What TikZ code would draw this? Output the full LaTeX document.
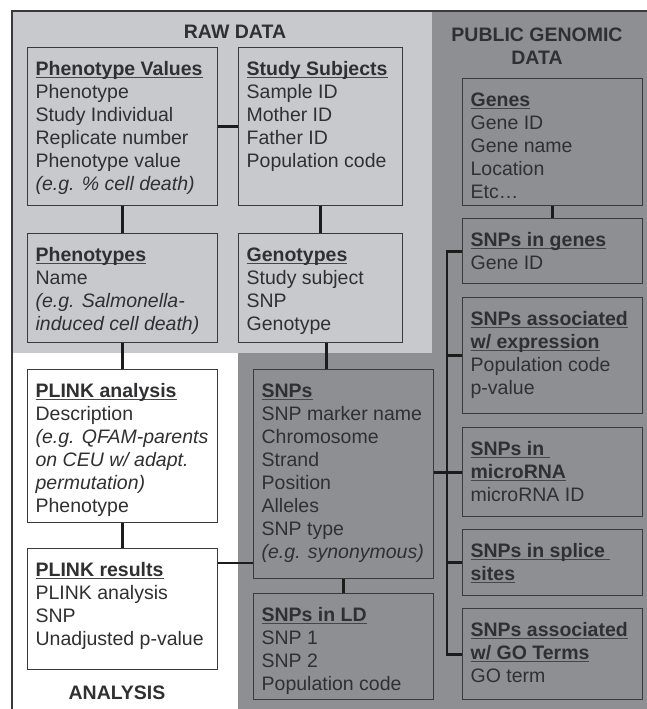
\documentclass[tikz,border=0pt]{standalone}
\usepackage{fontspec}
\setmainfont{Liberation Sans}

\definecolor{rawfill}{RGB}{200,201,204}
\definecolor{pubfill}{RGB}{142,143,147}
\definecolor{boxline}{RGB}{58,58,60}
\definecolor{linkcol}{RGB}{28,28,28}
\definecolor{textgray}{RGB}{48,48,50}
\definecolor{ulcol}{RGB}{70,70,72}

\newcommand{\fieldfont}{\fontsize{19.5}{23}\selectfont}
% bold table title, underlined
\newcommand{\ttl}[1]{\setbox0\hbox{\bfseries #1}\rlap{\color{ulcol}\rule[-2.8pt]{\wd0}{1.3pt}}\box0}
% fixed size body of a table box: width, height, lines
\newcommand{\entity}[3]{\parbox[c][#2pt][t]{#1pt}{\rule{0pt}{28pt}#3}}

\begin{document}
\begin{tikzpicture}
        [
            x = 1pt, y = -1pt,
            table/.style = {
                draw=boxline, line width=1.3pt, rectangle, anchor=north west,
                inner xsep=8pt, inner ysep=0pt, font=\fieldfont, text=textgray},
            result/.style = {table, fill=white},
            link/.style = {draw=linkcol, line width=2.8pt},
            area/.style = {font=\fieldfont\bfseries, text=textgray, align=center, inner sep=0pt}
        ]
        \useasboundingbox (0,0) rectangle (647,709);
        % shaded areas and frame
        \fill [rawfill] (12,11) rectangle (432,353);
        \fill [pubfill] (432,11) -- (647,11) -- (647,709) -- (238,709) -- (238,353) -- (432,353) -- cycle;
        \draw [boxline, line width=1.5pt] (12,709) -- (12,11) -- (647,11);

        \node [area, anchor=base] (rawlbl) at (235,38) {RAW DATA};
        \node [area, anchor=base] (publbl) at (537,65) {PUBLIC GENOMIC\\[1pt]DATA};
        \node [area, anchor=base] (analbl) at (117,699) {ANALYSIS};

        % raw data
        \node [table] (pval) at (27,47) {\entity{174}{158}{\ttl{Phenotype Values}\\Phenotype\\Study Individual\\Replicate number\\Phenotype value\\\textit{(e.g. \% cell death)}}};
        \node [table] (subj) at (238,47) {\entity{148}{158}{\ttl{Study Subjects}\\Sample ID\\Mother ID\\Father ID\\Population code}};
        \node [table] (pheno) at (27,233) {\entity{174}{109}{\ttl{Phenotypes}\\Name\\\textit{(e.g. Salmonella-}\\\textit{induced cell death)}}};
        \node [table] (geno) at (238,233) {\entity{148}{109}{\ttl{Genotypes}\\Study subject\\SNP\\Genotype}};

        % analysis
        \node [result] (plinka) at (27,369) {\entity{174}{153}{\ttl{PLINK analysis}\\Description\\\textit{(e.g. QFAM-parents}\\\textit{on CEU w/ adapt.}\\\textit{permutation)}\\Phenotype}};
        \node [result] (plinkr) at (27,548) {\entity{174}{121}{\ttl{PLINK results}\\PLINK analysis\\SNP\\Unadjusted p-value}};

        % public genomic data
        \node [table] (snps) at (253,369) {\entity{164}{209}{\ttl{SNPs}\\SNP marker name\\Chromosome\\Strand\\Position\\Alleles\\SNP type\\\textit{(e.g. synonymous)}}};
        \node [table] (ld) at (253,593) {\entity{164}{106}{\ttl{SNPs in LD}\\SNP 1\\SNP 2\\Population code}};
        \node [table] (genes) at (462,78) {\entity{164}{127}{\ttl{Genes}\\Gene ID\\Gene name\\Location\\Etc…}};
        \node [table] (ingenes) at (462,218) {\entity{164}{65}{\ttl{SNPs in genes}\\Gene ID}};
        \node [table] (expr) at (462,297) {\entity{164}{116}{\ttl{SNPs associated}\\\ttl{w/ expression}\\Population code\\p-value}};
        \node [table] (mirna) at (462,427) {\entity{164}{89}{\ttl{SNPs in\ }\\\ttl{microRNA}\\microRNA ID}};
        \node [table] (splice) at (462,529) {\entity{164}{66}{\ttl{SNPs in splice\ }\\\ttl{sites}}};
        \node [table] (goterm) at (462,608) {\entity{164}{91}{\ttl{SNPs associated}\\\ttl{w/ GO Terms}\\GO term}};

        % links
        \draw [link] (pval) to (subj);
        \draw [link] (pval) to (pheno);
        \draw [link] (subj) to (geno);
        \draw [link] (pheno) to (plinka);
        \draw [link] (plinka) to (plinkr);
        \draw [link] ([xshift=6pt]geno.south) to ([xshift=6pt]geno.south |- snps.north);
        \draw [link] (snps) to (ld);
        \draw [link] ([yshift=-15pt]plinkr.north east) to ([yshift=-15pt]plinkr.north east -| snps.west);
        \draw [link] (genes) to (ingenes);
        \draw [link] (snps.east |- mirna.west) to (mirna.west);
        \draw [link] (ingenes.west) -- ++(-15,0) |- (goterm.west);
        \foreach \t in {expr, mirna, splice}
            \draw [link] (\t.west) -- ++(-15,0);
    \end{tikzpicture}
\end{document}
